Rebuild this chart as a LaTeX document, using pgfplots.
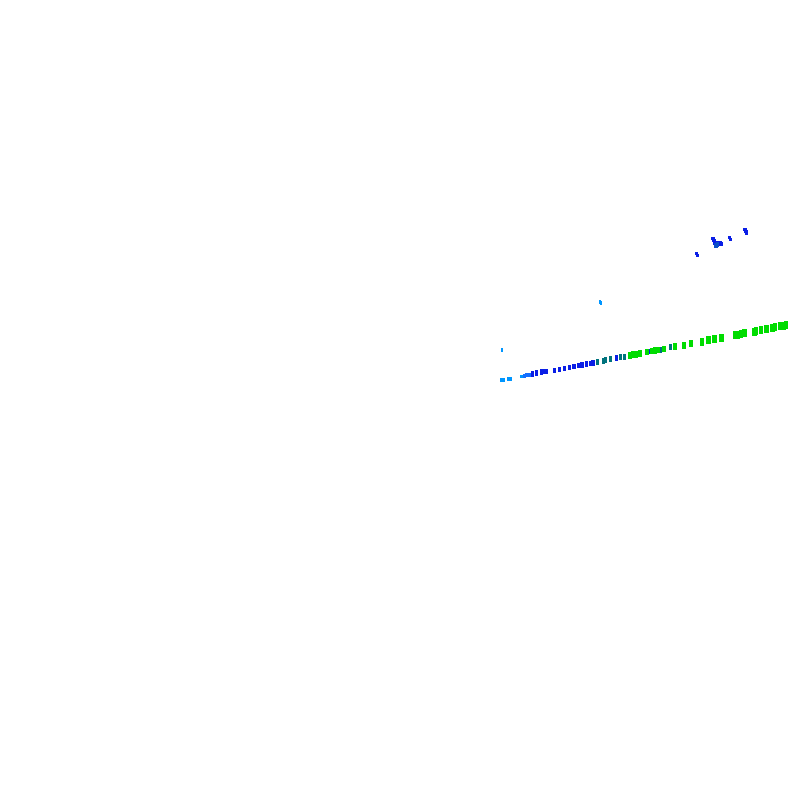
\documentclass[border=0pt]{standalone}
\usepackage{pgfplots}
\pgfplotsset{compat=1.18}
\definecolor{lb}{RGB}{0,150,255}
\definecolor{mb}{RGB}{20,110,255}
\definecolor{bl}{RGB}{10,30,230}
\definecolor{tl}{RGB}{0,115,125}
\definecolor{gr}{RGB}{0,220,0}
\definecolor{ct}{RGB}{10,80,200}
\begin{document}
\begin{tikzpicture}
\begin{axis}[
  hide axis, scale only axis, width=10cm, height=10cm,
  xmin=0, xmax=800, ymin=0, ymax=800, y dir=reverse, clip=false,
  every axis plot/.append style={line width=0pt}]
\addplot[draw=none] coordinates {(0,0) (800,800)};
% light blue, smallest
\addplot[only marks, color=lb, mark=square*, mark size=0.32pt, mark options={draw=lb, fill=lb, line width=0pt, yscale=1.4}] coordinates {
(501.7,380) (503.3,380) (508.3,379) (510.3,379) (521.7,376.3) (523,376.3) (600,302) (601,303)
};
\addplot[only marks, color=lb, mark=square*, mark size=0.2pt, mark options={draw=lb, fill=lb, line width=0pt, yscale=2}] coordinates {
(502,350)
};
\addplot[only marks, color=mb, mark=square*, mark size=0.32pt, mark options={draw=mb, fill=mb, line width=0pt, yscale=1.6}] coordinates {
(524.3,375.7) (526.7,375.3) (528.3,375) (530.3,374.7)
};
% blue
\addplot[only marks, color=bl, mark=square*, mark size=0.4pt, mark options={draw=bl, fill=bl, line width=0pt, yscale=1.8}] coordinates {
(532.3,374) (536.7,373) (541.7,372) (544,371.7) (546.7,371.3) (554.5,370.3) (559.3,369.3)
(564.7,368.3) (569.3,367.3) (574,366.3) (578.3,365.7) (582,365) (586.7,364) (591,363.3)
(593,363) (616.3,358) (650.3,351.7)
};
% teal
\addplot[only marks, color=tl, mark=square*, mark size=0.45pt, mark options={draw=tl, fill=tl, line width=0pt, yscale=1.9}] coordinates {
(597.3,361.7) (603.3,360.7) (605.7,360) (610.7,359) (620.7,356.7) (624.3,356.7) (660,349.7) (670.7,347.3)
};
% green small
\addplot[only marks, color=gr, mark=square*, mark size=0.48pt, mark options={draw=gr, fill=gr, line width=0pt, yscale=2.1}] coordinates {
(630,355.5) (633.3,354.7) (636,354.2) (640,353.3) (647,352) (652,351) (655,350.3) (657.7,350)
(663.7,349) (675,346.7) (684,345.3) (691.3,343.3)
};
% green large
\addplot[only marks, color=gr, mark=square*, mark size=0.62pt, mark options={draw=gr, fill=gr, line width=0pt, yscale=2}] coordinates {
(702,341.7) (708.3,340.3) (714.3,339) (721.3,337.7) (735.7,335) (738,334.7) (741,334) (744.3,333.3)
(754.3,331.7) (756,331.3) (761,330) (766.7,329.3) (772.7,327.7) (775,327) (780,326.3) (783.3,325.7) (786,325.3)
};
% upper blue cluster
\addplot[only marks, color=bl, mark=square*, mark size=0.36pt, mark options={draw=bl, fill=bl, line width=0pt, yscale=1.4}] coordinates {
(696.5,253.5) (697.5,255.5) (713,238.5) (714,240.5) (715,242.7) (718.5,242.5) (720,243.3) (721,244.3)
(729.5,237.5) (730.5,239.5) (745,229.5) (746,231.5) (746.5,233)
};
\addplot[only marks, color=ct, mark=square*, mark size=0.45pt, mark options={draw=ct, fill=ct, line width=0pt, yscale=1.5}] coordinates {
(716,245.5) (717.5,244.5)
};
\end{axis}
\end{tikzpicture}
\end{document}
